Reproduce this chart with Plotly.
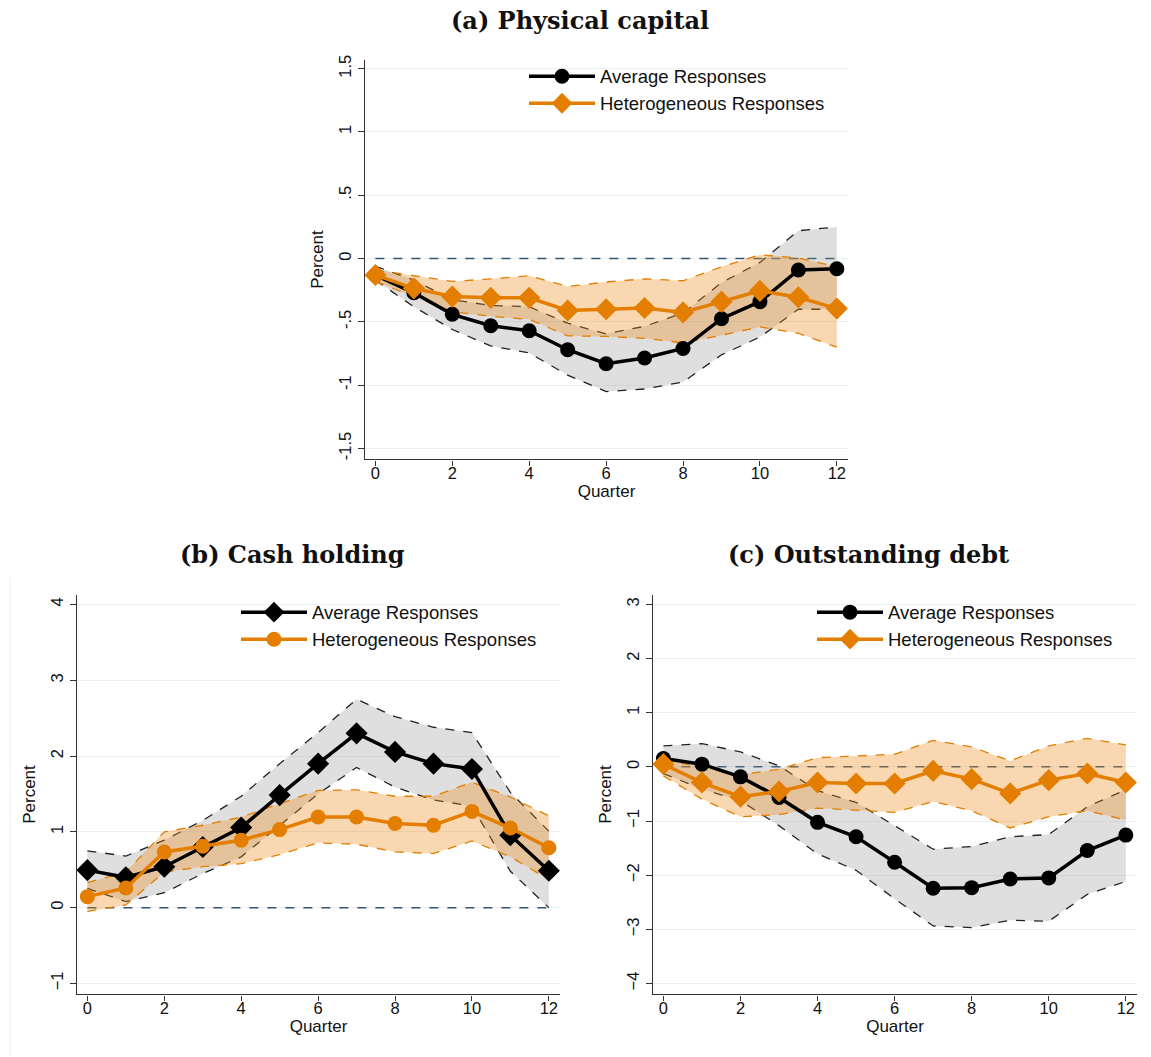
import plotly.graph_objects as go

quarters = list(range(13))

# Panel (a) Physical capital
a_avg = [-0.13, -0.27, -0.44, -0.53, -0.57, -0.72, -0.83, -0.785, -0.71, -0.475, -0.34, -0.09, -0.08]
a_avg_hi = [-0.06, -0.17, -0.325, -0.37, -0.38, -0.51, -0.595, -0.535, -0.43, -0.19, -0.03, 0.22, 0.25]
a_avg_lo = [-0.17, -0.38, -0.56, -0.69, -0.745, -0.92, -1.05, -1.03, -0.975, -0.76, -0.62, -0.40, -0.40]
a_het = [-0.13, -0.235, -0.30, -0.31, -0.31, -0.41, -0.40, -0.39, -0.425, -0.34, -0.255, -0.305, -0.395]
a_het_hi = [-0.09, -0.135, -0.18, -0.16, -0.135, -0.22, -0.185, -0.16, -0.175, -0.065, 0.03, 0.005, -0.065]
a_het_lo = [-0.18, -0.30, -0.42, -0.455, -0.48, -0.61, -0.615, -0.63, -0.665, -0.605, -0.54, -0.59, -0.70]

# Panel (b) Cash holding
b_avg = [0.495, 0.40, 0.54, 0.80, 1.056, 1.485, 1.90, 2.30, 2.055, 1.90, 1.83, 0.955, 0.486]
b_avg_hi = [0.75, 0.68, 0.89, 1.15, 1.47, 1.90, 2.31, 2.75, 2.52, 2.38, 2.31, 1.52, 1.01]
b_avg_lo = [0.254, 0.08, 0.197, 0.45, 0.67, 1.087, 1.50, 1.85, 1.59, 1.42, 1.34, 0.48, 0.0]
b_het = [0.145, 0.26, 0.735, 0.81, 0.89, 1.03, 1.196, 1.196, 1.11, 1.087, 1.27, 1.05, 0.79]
b_het_hi = [0.33, 0.47, 1.0, 1.087, 1.196, 1.37, 1.546, 1.555, 1.47, 1.47, 1.656, 1.46, 1.21]
b_het_lo = [-0.05, 0.035, 0.47, 0.54, 0.58, 0.70, 0.855, 0.837, 0.736, 0.714, 0.88, 0.67, 0.37]

# Panel (c) Outstanding debt
c_avg = [0.153, 0.05, -0.184, -0.564, -1.024, -1.29, -1.76, -2.24, -2.23, -2.07, -2.05, -1.545, -1.26]
c_avg_hi = [0.386, 0.43, 0.276, 0.02, -0.44, -0.656, -1.085, -1.52, -1.47, -1.29, -1.25, -0.736, -0.423]
c_avg_lo = [-0.123, -0.41, -0.625, -1.085, -1.606, -1.91, -2.434, -2.937, -2.967, -2.83, -2.85, -2.354, -2.115]
c_het = [0.05, -0.29, -0.55, -0.454, -0.29, -0.307, -0.307, -0.074, -0.227, -0.49, -0.245, -0.123, -0.29]
c_het_hi = [0.14, -0.012, -0.147, -0.043, 0.17, 0.20, 0.233, 0.49, 0.368, 0.11, 0.386, 0.527, 0.405]
c_het_lo = [-0.166, -0.595, -0.92, -0.883, -0.76, -0.80, -0.84, -0.64, -0.81, -1.128, -0.92, -0.81, -0.98]

titles = ["(a) Physical capital", "(b) Cash holding", "(c) Outstanding debt"]
legend_names = ["Average Responses", "Heterogeneous Responses"]

a_yticks = [-1.5, -1, -0.5, 0, 0.5, 1, 1.5]
a_yticklabels = ["-1.5", "-1", "-.5", "0", ".5", "1", "1.5"]
b_yticks = [-1, 0, 1, 2, 3, 4]
c_yticks = [-4, -3, -2, -1, 0, 1, 2, 3]
xticks = [0, 2, 4, 6, 8, 10, 12]

BLACK = "#000000"
ORANGE = "#E37E00"
GRAY_FILL = "rgba(140,140,140,0.28)"
ORANGE_FILL = "rgba(238,140,30,0.35)"
ZERO = "#2F5577"
GRID = "#EAF1F3"
SANS = "Liberation Sans, Arial"

fig = go.Figure()

panels = [
    dict(xa="x", ya="y", avg=a_avg, hi=a_avg_hi, lo=a_avg_lo, het=a_het, hhi=a_het_hi, hlo=a_het_lo,
         avg_sym="circle", het_sym="diamond", legend="legend"),
    dict(xa="x2", ya="y2", avg=b_avg, hi=b_avg_hi, lo=b_avg_lo, het=b_het, hhi=b_het_hi, hlo=b_het_lo,
         avg_sym="diamond", het_sym="circle", legend="legend2"),
    dict(xa="x3", ya="y3", avg=c_avg, hi=c_avg_hi, lo=c_avg_lo, het=c_het, hhi=c_het_hi, hlo=c_het_lo,
         avg_sym="circle", het_sym="diamond", legend="legend3"),
]

for p in panels:
    xa, ya = p["xa"], p["ya"]
    fig.add_trace(go.Scatter(x=[quarters[0], quarters[-1]], y=[0, 0], xaxis=xa, yaxis=ya, mode="lines",
                             line=dict(color=ZERO, width=1.5, dash="dash"), showlegend=False, hoverinfo="skip"))
    fig.add_trace(go.Scatter(x=quarters, y=p["lo"], xaxis=xa, yaxis=ya, mode="lines",
                             line=dict(color="#222222", width=1.3, dash="dash"), showlegend=False, hoverinfo="skip"))
    fig.add_trace(go.Scatter(x=quarters, y=p["hi"], xaxis=xa, yaxis=ya, mode="lines", fill="tonexty",
                             fillcolor=GRAY_FILL,
                             line=dict(color="#222222", width=1.3, dash="dash"), showlegend=False, hoverinfo="skip"))
    fig.add_trace(go.Scatter(x=quarters, y=p["hlo"], xaxis=xa, yaxis=ya, mode="lines",
                             line=dict(color=ORANGE, width=1.3, dash="dash"), showlegend=False, hoverinfo="skip"))
    fig.add_trace(go.Scatter(x=quarters, y=p["hhi"], xaxis=xa, yaxis=ya, mode="lines", fill="tonexty",
                             fillcolor=ORANGE_FILL,
                             line=dict(color=ORANGE, width=1.3, dash="dash"), showlegend=False, hoverinfo="skip"))
    fig.add_trace(go.Scatter(x=quarters, y=p["avg"], xaxis=xa, yaxis=ya, mode="lines+markers",
                             name=legend_names[0], legend=p["legend"],
                             line=dict(color=BLACK, width=3.5),
                             marker=dict(symbol=p["avg_sym"], size=15 if p["avg_sym"] == "circle" else 17,
                                         color=BLACK)))
    fig.add_trace(go.Scatter(x=quarters, y=p["het"], xaxis=xa, yaxis=ya, mode="lines+markers",
                             name=legend_names[1], legend=p["legend"],
                             line=dict(color=ORANGE, width=3.5),
                             marker=dict(symbol=p["het_sym"], size=15 if p["het_sym"] == "circle" else 17,
                                         color=ORANGE)))

W, H = 1151, 1057


def dom_x(l, r):
    return [l / W, r / W]


def dom_y(t, b):
    return [1 - b / H, 1 - t / H]


axis_common = dict(showline=True, linecolor="#333333", linewidth=1.3, ticks="outside",
                   tickcolor="#333333", tickwidth=1.3, zeroline=False,
                   tickfont=dict(family=SANS, size=16.5, color="#111111"))
ax_title_font = dict(family=SANS, size=17, color="#111111")
x_extra = dict(ticklen=5, ticklabelstandoff=-6, showgrid=False, tickvals=xticks)
y_extra = dict(ticklen=6, tickangle=-90, showgrid=True, gridcolor=GRID, gridwidth=1)

xr = [-0.27, 12.29]
fig.update_layout(
    width=W, height=H, margin=dict(l=0, r=0, t=0, b=0),
    paper_bgcolor="white", plot_bgcolor="white",
    xaxis=dict(domain=dom_x(365, 848), range=xr, anchor="y",
               title=dict(text="Quarter", standoff=0, font=ax_title_font), **x_extra, **axis_common),
    yaxis=dict(domain=dom_y(55, 457), range=[-1.586, 1.571], tickvals=a_yticks, ticktext=a_yticklabels,
               anchor="x", title=dict(text="Percent", standoff=8, font=ax_title_font), **y_extra, **axis_common),
    xaxis2=dict(domain=dom_x(77, 560), range=xr, anchor="y2",
                title=dict(text="Quarter", standoff=0, font=ax_title_font), **x_extra, **axis_common),
    yaxis2=dict(domain=dom_y(593, 995), range=[-1.144, 4.13], tickvals=b_yticks,
                anchor="x2", title=dict(text="Percent", standoff=8, font=ax_title_font), **y_extra, **axis_common),
    xaxis3=dict(domain=dom_x(653, 1137), range=xr, anchor="y3",
                title=dict(text="Quarter", standoff=0, font=ax_title_font), **x_extra, **axis_common),
    yaxis3=dict(domain=dom_y(593, 995), range=[-4.2, 3.18], tickvals=c_yticks,
                anchor="x3", title=dict(text="Percent", standoff=8, font=ax_title_font), **y_extra, **axis_common),
)

leg_common = dict(bgcolor="rgba(0,0,0,0)", borderwidth=0, itemwidth=66, tracegroupgap=0, traceorder="normal",
                  font=dict(family=SANS, size=18.5, color="#111111"),
                  xanchor="left", yanchor="top", itemclick=False, itemdoubleclick=False)
fig.update_layout(
    legend=dict(x=524 / W, y=1 - 53 / H, **leg_common),
    legend2=dict(x=236 / W, y=1 - 592 / H, **leg_common),
    legend3=dict(x=812 / W, y=1 - 592 / H, **leg_common),
)

title_font = dict(family="DejaVu Serif", size=24, color="#111111")
for txt, cx, cy in [(titles[0], 580, 16), (titles[1], 292, 553), (titles[2], 868, 553)]:
    fig.add_annotation(text="<b>" + txt + "</b>", x=cx / W, y=1 - cy / H, xref="paper", yref="paper",
                       xanchor="center", yanchor="middle", showarrow=False, font=title_font)

fig.add_shape(type="line", xref="paper", yref="paper", x0=10 / W, x1=10 / W, y0=0, y1=1 - 575 / H,
              line=dict(color="#EEF2F2", width=1))

fig.write_html("out.html")
